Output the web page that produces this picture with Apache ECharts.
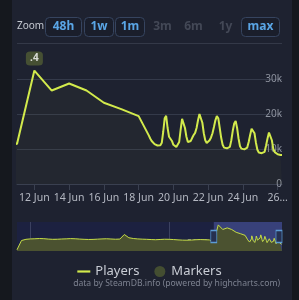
<!DOCTYPE html>
<html>
<head>
<meta charset="utf-8">
<script src="https://cdn.jsdelivr.net/npm/echarts@6/dist/echarts.min.js"></script>
<style>
  html, body { margin: 0; padding: 0; background: #15181e; }
  #card { position: absolute; left: 12px; top: 0; width: 280px; height: 300px; background: #1e2230; }
  #chart { position: absolute; left: 0; top: 0; width: 299px; height: 300px; }
</style>
</head>
<body>
<div id="card"></div>
<div id="chart"></div>
<script>
// daily player counts, 28 Apr .. 18 Jun 2025
var dailyStart = '2025-04-28';
var dailyPlayers = [
  1500, 13000, 14500,
  15000, 15200, 15500, 15300, 14800, 14500, 14600, 14900, 15100, 15400,
  15200, 14800, 14500, 14300, 14400, 14700, 15000, 15200, 14900, 14600, 14800,
  20500, 16500, 15500, 15000, 14700, 14500, 14200, 14000, 14300, 14600,
  14500, 14200, 13800, 13500, 13400, 13600, 14000, 14200, 14000, 13800,
  11400, 32400, 26700, 28700, 26700, 23200, 21400, 19400
];

// every 2 hours from 18 Jun 14:00
var hourlyStart = '2025-06-18T14:00:00Z';
var jun18 = [13900, 13000, 12300, 11800, 11400];
var jun19 = [11100, 11000, 11000, 11100, 11800, 15000, 18800, 19500, 16000, 13500, 13200, 12300];
var jun20 = [11200, 10700, 10600, 10700, 12000, 15500, 18600, 18700, 16000, 13500, 12000, 11700];
var jun21 = [12300, 13200, 14000, 14600, 16000, 18200, 20000, 20200, 17500, 14500, 12500, 11700];
var jun22 = [11900, 12500, 13300, 14500, 16300, 18200, 19400, 18800, 16000, 13200, 11200, 10400];
var jun23 = [10300, 10200, 10300, 10600, 12500, 15200, 17300, 18000, 16000, 13000, 10800, 10100];
var jun24 = [10000, 9900, 10000, 10400, 12000, 14000, 15800, 16300, 14500, 11800, 9800, 9000];
var jun25 = [8900, 8800, 8900, 9200, 11000, 13000, 14700, 14800, 12500, 10000, 9100, 8700];
var jun26 = [8500, 8400, 8300, 8300];

var markerDates = ['2025-06-12'];
var markerValues = [32400];
var markerLabels = ['.4'];

var windowStart = '2025-06-11';
var tickDays = ['2025-06-12', '2025-06-14', '2025-06-16', '2025-06-18', '2025-06-20', '2025-06-22', '2025-06-24', '2025-06-26'];
var tickLabels = ['12 Jun', '14 Jun', '16 Jun', '18 Jun', '20 Jun', '22 Jun', '24 Jun', '26...'];
var navMonths = ['2025-05-01', '2025-06-01'];
var navMonthLabels = ['May 2025', 'Jun 2025'];

var zoomButtons = ['48h', '1w', '1m', '3m', '6m', '1y', 'max'];
var zoomEnabled = [true, true, true, false, false, false, true];

var DAY = 86400000;
function day(s) { return Date.parse(s + 'T00:00:00Z'); }

var seriesData = [];
var d0 = day(dailyStart);
dailyPlayers.forEach(function (v, i) { seriesData.push([d0 + i * DAY, v]); });
var h0 = Date.parse(hourlyStart);
[].concat(jun18, jun19, jun20, jun21, jun22, jun23, jun24, jun25, jun26).forEach(function (v, i) {
  seriesData.push([h0 + i * 7200000, v]);
});
var firstTime = seriesData[0][0];
var lastTime = seriesData[seriesData.length - 1][0];
var startTime = day(windowStart);

var tickTimes = tickDays.map(day);
var monthTimes = navMonths.map(day);
var markerData = markerDates.map(function (d, i) { return [day(d), markerValues[i]]; });

var lineColor = '#d2ea4c';
var font = "'Noto Sans', sans-serif";

// range selector buttons
var graphics = [
  { type: 'text', left: 17, top: 21, style: { text: 'Zoom', fill: '#c4c8d0', font: '10px ' + font } },
  { type: 'line', shape: { x1: 17, y1: 43.5, x2: 282, y2: 43.5 }, style: { stroke: '#343948', lineWidth: 1 } },
  { type: 'text', right: 19, top: 279, style: { text: 'data by SteamDB.info (powered by highcharts.com)', fill: '#7d8290', font: '8.6px ' + font } }
];
var btnX = [45, 84, 115, 148, 179, 211, 241];
var btnW = [36, 29, 29, 28, 28, 28, 38];
zoomButtons.forEach(function (b, i) {
  if (zoomEnabled[i]) {
    graphics.push({ type: 'rect', shape: { x: btnX[i] + 0.5, y: 17.5, width: btnW[i], height: 19, r: 4 },
      style: { fill: '#1a1e2b', stroke: '#36445f', lineWidth: 1 } });
  }
  graphics.push({ type: 'text', x: btnX[i] + btnW[i] / 2 + 0.5, y: 27,
    style: { text: b, fill: zoomEnabled[i] ? '#5aa6e6' : '#434856', font: 'bold 12px ' + font,
      align: 'center', verticalAlign: 'middle' } });
});

var chart = echarts.init(document.getElementById('chart'));
chart.setOption({
  animation: false,
  backgroundColor: 'transparent',
  textStyle: { fontFamily: font },
  graphic: graphics,
  grid: [
    { left: 17, right: 17, top: 61.5, height: 122.5 },
    { left: 17, right: 17, top: 222, height: 29, show: true, backgroundColor: '#1c2140', borderWidth: 0 }
  ],
  xAxis: [
    {
      type: 'value', gridIndex: 0, min: startTime, max: lastTime,
      axisLine: { lineStyle: { color: '#3a4050' } },
      axisTick: { show: true, customValues: tickTimes, length: 6, lineStyle: { color: '#3a4050' } },
      axisLabel: {
        customValues: tickTimes, color: '#b4b8c2', fontSize: 10.5, margin: 9,
        formatter: function (v) { return tickLabels[tickTimes.indexOf(v)] || ''; }
      },
      splitLine: { show: false }
    },
    {
      type: 'value', gridIndex: 1, min: firstTime, max: lastTime,
      axisLine: { show: false },
      axisTick: { show: true, inside: true, length: 29, customValues: monthTimes, lineStyle: { color: '#3b4160' } },
      axisLabel: {
        inside: true, customValues: monthTimes, align: 'left', padding: [0, 0, 0, 2],
        color: '#8a8f9c', fontSize: 9, margin: 3,
        formatter: function (v) { return navMonthLabels[monthTimes.indexOf(v)] || ''; }
      },
      splitLine: { show: false }
    }
  ],
  yAxis: [
    {
      type: 'value', gridIndex: 0, position: 'right', min: 0, max: 35000, interval: 10000,
      axisLine: { show: false }, axisTick: { show: false },
      splitLine: { showMaxLine: false, lineStyle: { color: '#343a4a' } },
      axisLabel: {
        inside: true, showMaxLabel: false, margin: 0, color: '#8d929e', fontSize: 10,
        verticalAlign: 'middle', padding: [0, 0, 7, 0],
        formatter: function (v) { return v === 0 ? '0' : v / 1000 + 'k'; }
      }
    },
    { type: 'value', gridIndex: 1, min: 0, max: 36000, show: false }
  ],
  legend: {
    top: 260, left: 'center', itemGap: 15, itemWidth: 13, itemHeight: 11,
    textStyle: { color: '#c8ccd4', fontSize: 13 },
    data: [
      { name: 'Players', icon: 'path://M0,0H12V2H0Z', itemStyle: { color: lineColor } },
      { name: 'Markers', icon: 'circle', itemStyle: { color: '#4e5a32' } }
    ]
  },
  series: [
    {
      name: 'Players', type: 'line', xAxisIndex: 0, yAxisIndex: 0, data: seriesData,
      symbol: 'none', lineStyle: { color: lineColor, width: 2 }, itemStyle: { color: lineColor },
      areaStyle: { color: 'rgba(212,235,79,0.04)' }, z: 3
    },
    {
      name: 'Markers', type: 'scatter', xAxisIndex: 0, yAxisIndex: 0, data: markerData,
      symbol: 'roundRect', symbolSize: [17, 14], symbolOffset: [0, -12],
      itemStyle: { color: '#505c34' }, z: 4,
      label: {
        show: true, position: 'inside', color: '#ffffff', fontSize: 10, fontWeight: 'bold',
        formatter: function (p) { return markerLabels[p.dataIndex]; }
      }
    },
    {
      name: 'Navigator', type: 'line', xAxisIndex: 1, yAxisIndex: 1, data: seriesData,
      symbol: 'none', silent: true, lineStyle: { color: '#c5dc46', width: 1 },
      areaStyle: { color: '#4b5230', opacity: 1 }
    },
    {
      name: 'Window', type: 'line', xAxisIndex: 1, yAxisIndex: 1, data: [], z: 5, silent: true,
      markArea: {
        silent: true,
        itemStyle: { color: 'rgba(100,115,210,0.4)' },
        data: [[{ xAxis: startTime }, { xAxis: lastTime }]]
      },
      markPoint: {
        silent: true, symbol: 'rect', symbolSize: [6, 12],
        itemStyle: { color: '#263050', borderColor: '#5b9bd5', borderWidth: 1 },
        label: { show: false },
        data: [{ coord: [startTime, 18000] }, { coord: [lastTime, 18000], symbolOffset: [-3, 0] }]
      }
    }
  ]
});
</script>
</body>
</html>
